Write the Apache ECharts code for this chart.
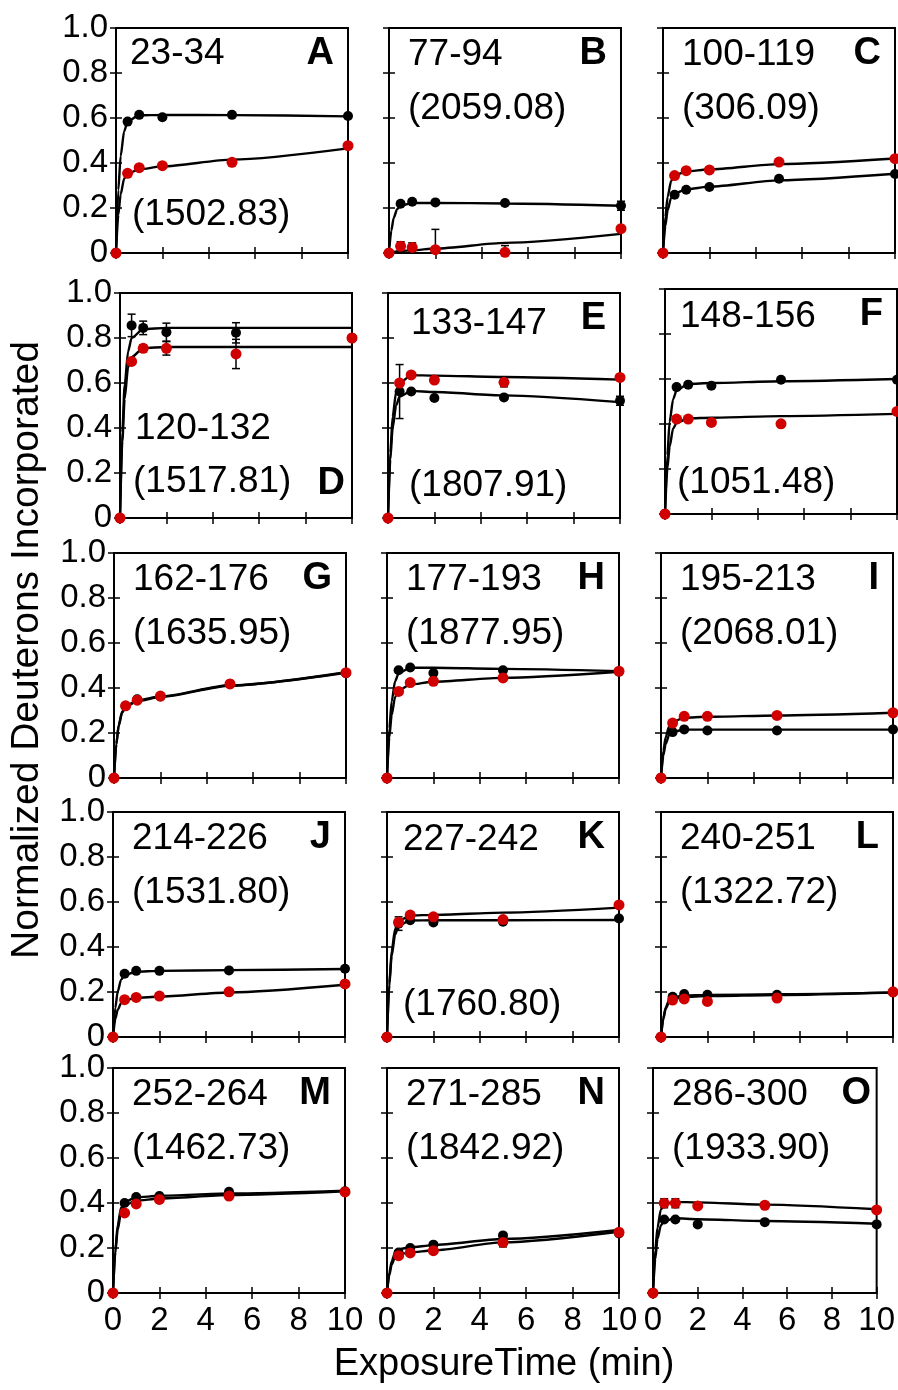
<!DOCTYPE html>
<html>
<head>
<meta charset="utf-8">
<script src="https://cdn.jsdelivr.net/npm/echarts@6/dist/echarts.min.js"></script>
<style>
html, body { margin: 0; padding: 0; background: #fff; }
#chart { width: 898px; height: 1390px; }
</style>
</head>
<body>
<div id="chart"></div>
<script>
// exposure times (min) of the measured points, and of the read-off fit curves
var times = [0, 0.5, 1, 2, 5, 10];
var fitTimes = [0, 0.1, 0.2, 0.35, 0.5, 1, 2, 5, 10];

var peptides = ['23-34', '77-94', '100-119', '120-132', '133-147', '148-156', '162-176', '177-193',
                '195-213', '214-226', '227-242', '240-251', '252-264', '271-285', '286-300'];
var masses = ['(1502.83)', '(2059.08)', '(306.09)', '(1517.81)', '(1807.91)', '(1051.48)', '(1635.95)', '(1877.95)',
              '(2068.01)', '(1531.80)', '(1760.80)', '(1322.72)', '(1462.73)', '(1842.92)', '(1933.90)'];
var letters = ['A', 'B', 'C', 'D', 'E', 'F', 'G', 'H', 'I', 'J', 'K', 'L', 'M', 'N', 'O'];

// black points
var blackVals = [
    [0, 0.584, 0.614, 0.603, 0.614, 0.609],
    [0, 0.219, 0.228, 0.225, 0.222, 0.21],
    [0, 0.259, 0.281, 0.293, 0.33, 0.351],
    [0, 0.856, 0.845, 0.826, 0.823, 0.80],
    [0, 0.562, 0.562, 0.533, 0.536, 0.521],
    [0, 0.564, 0.575, 0.57, 0.597, 0.597],
    [0, 0.32, 0.35, 0.362, 0.418, 0.466],
    [0, 0.479, 0.491, 0.467, 0.479, 0.472],
    [0, 0.204, 0.216, 0.211, 0.211, 0.216],
    [0, 0.281, 0.294, 0.294, 0.296, 0.303],
    [0, 0.504, 0.519, 0.509, 0.512, 0.527],
    [0, 0.179, 0.191, 0.188, 0.188, 0.198],
    [0, 0.40, 0.427, 0.431, 0.45, 0.452],
    [0, 0.18, 0.20, 0.215, 0.256, 0.265],
    [0, 0.327, 0.327, 0.305, 0.315, 0.305]
];
// red points
var redVals = [
    [0, 0.354, 0.379, 0.388, 0.403, 0.477],
    [0, 0.03, 0.025, 0.015, 0.003, 0.108],
    [0, 0.344, 0.366, 0.369, 0.404, 0.419],
    [0, 0.696, 0.754, 0.754, 0.729, 0.80],
    [0, 0.60, 0.636, 0.613, 0.603, 0.625],
    [0, 0.422, 0.422, 0.407, 0.401, 0.456],
    [0, 0.321, 0.346, 0.364, 0.418, 0.468],
    [0, 0.385, 0.424, 0.43, 0.445, 0.475],
    [0, 0.244, 0.274, 0.274, 0.278, 0.29],
    [0, 0.166, 0.176, 0.182, 0.201, 0.236],
    [0, 0.51, 0.542, 0.534, 0.522, 0.587],
    [0, 0.164, 0.169, 0.158, 0.173, 0.201],
    [0, 0.356, 0.396, 0.416, 0.431, 0.449],
    [0, 0.166, 0.178, 0.188, 0.225, 0.27],
    [0, 0.399, 0.399, 0.387, 0.39, 0.369]
];
// error bars (half length), 0 = none drawn
var blackErr = [
    [0, 0, 0, 0, 0, 0], [0, 0, 0, 0, 0, 0.02], [0, 0, 0, 0, 0, 0],
    [0, 0.05, 0.03, 0.04, 0.045, 0], [0, 0.12, 0, 0, 0, 0.02], [0, 0, 0, 0, 0, 0],
    [0, 0, 0, 0, 0, 0], [0, 0, 0, 0, 0, 0], [0, 0, 0, 0, 0, 0],
    [0, 0, 0, 0, 0, 0], [0, 0.03, 0, 0, 0, 0], [0, 0, 0, 0, 0, 0],
    [0, 0, 0, 0, 0, 0], [0, 0, 0, 0, 0, 0], [0, 0, 0, 0, 0, 0]
];
var redErr = [
    [0, 0, 0, 0, 0, 0], [0, 0.02, 0.02, 0.09, 0.03, 0], [0, 0, 0, 0, 0, 0],
    [0, 0, 0.015, 0.03, 0.065, 0], [0, 0, 0, 0, 0.02, 0], [0, 0, 0, 0, 0, 0],
    [0, 0, 0, 0, 0, 0], [0, 0, 0, 0, 0, 0], [0, 0, 0, 0, 0, 0],
    [0, 0, 0, 0, 0, 0], [0, 0, 0, 0, 0, 0], [0, 0, 0, 0, 0, 0],
    [0, 0, 0, 0, 0, 0], [0, 0, 0, 0, 0.02, 0], [0, 0.02, 0.02, 0, 0, 0]
];
// fit curves at fitTimes
var blackFit = [
    [0, 0.28, 0.43, 0.54, 0.585, 0.612, 0.614, 0.613, 0.607],
    [0, 0.10, 0.155, 0.195, 0.21, 0.222, 0.223, 0.22, 0.21],
    [0, 0.12, 0.19, 0.245, 0.265, 0.283, 0.295, 0.323, 0.352],
    [0, 0.38, 0.59, 0.74, 0.80, 0.84, 0.845, 0.845, 0.845],
    [0, 0.26, 0.40, 0.50, 0.54, 0.565, 0.56, 0.545, 0.515],
    [0, 0.26, 0.41, 0.51, 0.55, 0.578, 0.582, 0.59, 0.60],
    [0, 0.15, 0.235, 0.295, 0.32, 0.345, 0.362, 0.412, 0.468],
    [0, 0.22, 0.34, 0.43, 0.465, 0.49, 0.49, 0.485, 0.475],
    [0, 0.10, 0.15, 0.19, 0.205, 0.215, 0.215, 0.215, 0.215],
    [0, 0.13, 0.20, 0.255, 0.275, 0.29, 0.294, 0.297, 0.302],
    [0, 0.23, 0.36, 0.455, 0.495, 0.518, 0.519, 0.519, 0.52],
    [0, 0.085, 0.13, 0.165, 0.175, 0.185, 0.187, 0.19, 0.197],
    [0, 0.19, 0.30, 0.38, 0.405, 0.425, 0.432, 0.442, 0.455],
    [0, 0.09, 0.14, 0.18, 0.195, 0.203, 0.213, 0.24, 0.28],
    [0, 0.15, 0.24, 0.30, 0.32, 0.332, 0.328, 0.32, 0.308]
];
var redFit = [
    [0, 0.17, 0.26, 0.33, 0.352, 0.372, 0.385, 0.415, 0.465],
    [0, 0.003, 0.005, 0.007, 0.009, 0.012, 0.02, 0.045, 0.085],
    [0, 0.16, 0.25, 0.32, 0.345, 0.362, 0.372, 0.395, 0.42],
    [0, 0.34, 0.53, 0.67, 0.715, 0.755, 0.76, 0.76, 0.76],
    [0, 0.29, 0.45, 0.56, 0.60, 0.635, 0.633, 0.627, 0.615],
    [0, 0.20, 0.30, 0.38, 0.405, 0.425, 0.428, 0.435, 0.445],
    [0, 0.15, 0.23, 0.29, 0.315, 0.342, 0.36, 0.41, 0.47],
    [0, 0.18, 0.28, 0.36, 0.39, 0.415, 0.428, 0.445, 0.472],
    [0, 0.12, 0.18, 0.23, 0.25, 0.268, 0.272, 0.278, 0.29],
    [0, 0.08, 0.12, 0.15, 0.163, 0.173, 0.18, 0.198, 0.232],
    [0, 0.24, 0.38, 0.48, 0.515, 0.54, 0.543, 0.553, 0.575],
    [0, 0.08, 0.125, 0.155, 0.168, 0.178, 0.182, 0.187, 0.198],
    [0, 0.18, 0.28, 0.36, 0.39, 0.41, 0.42, 0.435, 0.452],
    [0, 0.08, 0.125, 0.16, 0.172, 0.18, 0.19, 0.225, 0.272],
    [0, 0.19, 0.29, 0.37, 0.395, 0.405, 0.403, 0.393, 0.372]
];

var FONT = "'Liberation Sans', Arial, sans-serif";
var RED = '#d10000';

// panel boxes [left, top], all 232 x 225
var boxes = [
    [116, 28], [389, 28], [663, 28],
    [120, 293], [388, 293], [665, 289],
    [114, 553], [387, 553], [661, 553],
    [113, 812], [387, 812], [661, 812],
    [113, 1068], [387, 1068], [653, 1068]
];
var W = 232, H = 225;

// text placement inside each panel: [x, baseline] for peptide and mass, letter right offset/baseline
var textPos = {
    0: {pep: [14, 44], mass: [16, 205]},
    3: {pep: [15, 154], mass: [13, 207], letter: [7, 210]},
    4: {pep: [23, 49], mass: [21, 211]},
    5: {pep: [15, 46], mass: [12, 212]},
    10: {pep: [16, 46], mass: [16, 211]}
};

function errRender(params, api) {
    var x = api.value(0), y = api.value(1), e = api.value(2);
    var hi = api.coord([x, y + e]);
    var lo = api.coord([x, Math.max(0, y - e)]);
    var st = {stroke: '#000', lineWidth: 1.5};
    return {
        type: 'group',
        children: [
            {type: 'line', shape: {x1: hi[0], y1: hi[1], x2: lo[0], y2: lo[1]}, style: st},
            {type: 'line', shape: {x1: hi[0] - 4, y1: hi[1], x2: hi[0] + 4, y2: hi[1]}, style: st},
            {type: 'line', shape: {x1: lo[0] - 4, y1: lo[1], x2: lo[0] + 4, y2: lo[1]}, style: st}
        ]
    };
}

var grids = [], xAxes = [], yAxes = [], series = [], graphics = [];

boxes.forEach(function (b, i) {
    var row = Math.floor(i / 3), col = i % 3;
    grids.push({left: b[0], top: b[1], width: W, height: H, show: true,
        borderColor: '#000', borderWidth: 2, backgroundColor: 'transparent'});

    var tick = {show: true, inside: true, length: 6, lineStyle: {color: '#000', width: 1.5}};
    xAxes.push({
        gridIndex: i, type: 'value', min: 0, max: 10, interval: 2, position: 'bottom',
        axisLine: {show: false}, splitLine: {show: false}, axisTick: tick,
        axisLabel: {show: row === 4, margin: 11, fontSize: 33, color: '#000', fontFamily: FONT}
    });
    xAxes.push({
        gridIndex: i, type: 'value', min: 0, max: 10, interval: 2, position: 'top',
        axisLine: {show: false}, splitLine: {show: false}, axisTick: tick, axisLabel: {show: false}
    });
    yAxes.push({
        gridIndex: i, type: 'value', min: 0, max: 1, interval: 0.2, position: 'left',
        axisLine: {show: false}, splitLine: {show: false}, axisTick: tick,
        axisLabel: {show: col === 0, margin: 8, fontSize: 33, color: '#000', fontFamily: FONT,
            formatter: function (v) { return v === 0 ? '0' : v.toFixed(1); }}
    });
    yAxes.push({
        gridIndex: i, type: 'value', min: 0, max: 1, interval: 0.2, position: 'right',
        axisLine: {show: false}, splitLine: {show: false}, axisTick: tick, axisLabel: {show: false}
    });

    var xi = 2 * i, yi = 2 * i;
    [blackFit[i], redFit[i]].forEach(function (fit) {
        series.push({
            type: 'line', xAxisIndex: xi, yAxisIndex: yi, showSymbol: false, silent: true,
            smooth: 0.25, smoothMonotone: 'x', z: 2,
            lineStyle: {color: '#000', width: 2.4},
            data: fitTimes.map(function (t, k) { return [t, fit[k]]; })
        });
    });
    [[blackVals[i], blackErr[i]], [redVals[i], redErr[i]]].forEach(function (p) {
        var d = [];
        times.forEach(function (t, k) { if (p[1][k] > 0) d.push([t, p[0][k], p[1][k]]); });
        if (d.length) {
            series.push({type: 'custom', xAxisIndex: xi, yAxisIndex: yi, renderItem: errRender,
                encode: {x: 0, y: 1}, z: 3, silent: true, data: d});
        }
    });
    series.push({
        type: 'scatter', xAxisIndex: xi, yAxisIndex: yi, symbolSize: 10, z: 4,
        itemStyle: {color: '#000', opacity: 1},
        data: times.map(function (t, k) { return [t, blackVals[i][k]]; })
    });
    series.push({
        type: 'scatter', xAxisIndex: xi, yAxisIndex: yi, symbolSize: 11, z: 5,
        itemStyle: {color: RED, opacity: 1},
        data: times.map(function (t, k) { return [t, redVals[i][k]]; })
    });

    var tp = textPos[i] || {};
    var pep = tp.pep || [19, 45], mass = tp.mass || [19, 99], let_ = tp.letter || [14, 45];
    graphics.push({type: 'text', x: b[0] + pep[0], y: b[1] + pep[1], z: 10,
        style: {text: peptides[i], font: '37px ' + FONT, fill: '#000', textVerticalAlign: 'bottom'}});
    graphics.push({type: 'text', x: b[0] + mass[0], y: b[1] + mass[1], z: 10,
        style: {text: masses[i], font: '37px ' + FONT, fill: '#000', textVerticalAlign: 'bottom'}});
    graphics.push({type: 'text', x: b[0] + W - let_[0], y: b[1] + let_[1], z: 10,
        style: {text: letters[i], font: 'bold 38px ' + FONT, fill: '#000', textAlign: 'right', textVerticalAlign: 'bottom'}});
});

graphics.push({type: 'text', x: 504, y: 1365, z: 10,
    style: {text: 'ExposureTime (min)', font: '38px ' + FONT, fill: '#000', textAlign: 'center', textVerticalAlign: 'middle'}});
graphics.push({type: 'text', x: 27, y: 650, rotation: Math.PI / 2, z: 10,
    style: {text: 'Normalized Deuterons Incorporated', font: '39px ' + FONT, fill: '#000', textAlign: 'center', textVerticalAlign: 'middle'}});

var chart = echarts.init(document.getElementById('chart'));
chart.setOption({
    animation: false,
    backgroundColor: '#fff',
    grid: grids,
    xAxis: xAxes,
    yAxis: yAxes,
    series: series,
    graphic: graphics
});
</script>
</body>
</html>
